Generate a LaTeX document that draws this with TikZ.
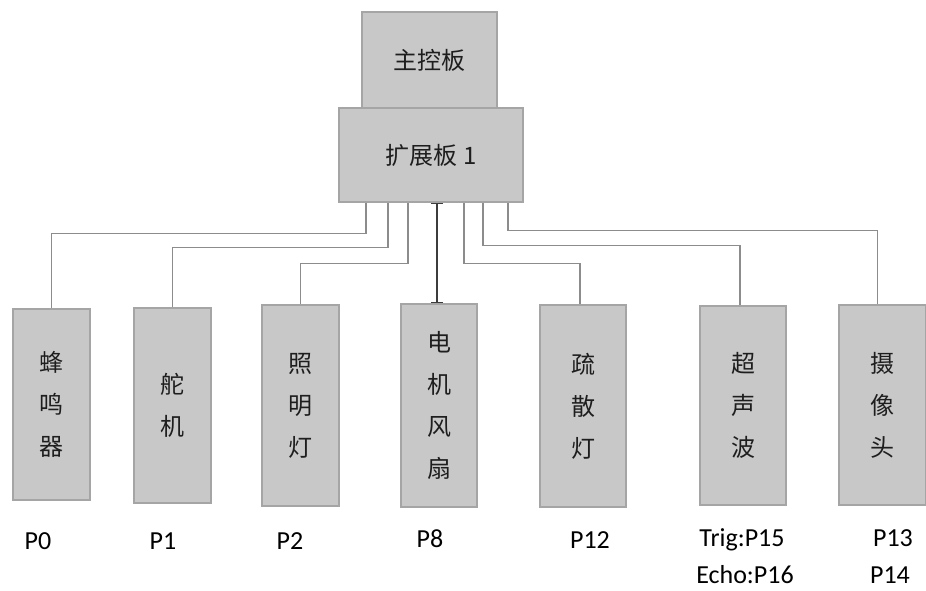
\documentclass[tikz,border=0pt]{standalone}
\usepackage{fontspec}
\setmainfont{Carlito}
\newfontfamily\cjk{Noto Sans CJK SC}
\usetikzlibrary{arrows.meta}
\definecolor{boxfill}{RGB}{200,200,200}
\definecolor{boxline}{RGB}{165,165,165}
\definecolor{wirecol}{RGB}{140,140,140}
\definecolor{darkwire}{RGB}{60,60,60}
\definecolor{txt}{RGB}{30,30,30}
\tikzset{
  board/.style={draw=boxline, fill=boxfill, line width=1.2pt, inner sep=0pt, text=txt, font=\cjk\fontsize{24}{28}\selectfont},
  dev/.style={draw=boxline, fill=boxfill, line width=1.2pt, inner sep=0pt, align=center, text=txt, font=\cjk\fontsize{24}{42}\selectfont},
  wire/.style={draw=wirecol, line width=1.2pt},
  darkline/.style={draw=darkwire, line width=1.6pt, {Bar[width=12pt]}-{Bar[width=12pt]}},
  pin/.style={anchor=base, text=black, font=\fontsize{26}{30}\selectfont, inner sep=0pt}
}
\begin{document}
\begin{tikzpicture}[x=1pt,y=-1pt]
\useasboundingbox (0,0) rectangle (926,591);
\node[board, minimum width=135pt, minimum height=96pt] (main) at (429.5,60) {主控板};
\node[board, minimum width=184pt, minimum height=94pt] (ext) at (431,155) {扩展板 1};
\node[dev, minimum width=77pt, minimum height=191pt] (b0) at (51.5,404.5) {蜂\\鸣\\器};
\node[dev, minimum width=77pt, minimum height=195pt] (b1) at (172.5,405.5) {舵\\机};
\node[dev, minimum width=77pt, minimum height=201pt] (b2) at (300.5,405.5) {照\\明\\灯};
\node[dev, minimum width=76pt, minimum height=203pt] (b3) at (439,405.5) {电\\机\\风\\扇};
\node[dev, minimum width=86pt, minimum height=202pt] (b4) at (583,406) {疏\\散\\灯};
\node[dev, minimum width=86pt, minimum height=199pt] (b5) at (743,405.5) {超\\声\\波};
\node[dev, minimum width=87pt, minimum height=200pt] (b6) at (882.5,405) {摄\\像\\头};
\draw[wire] ([xshift=-65pt]ext.south) -- ++(0,31) -| (b0.north);
\draw[wire] ([xshift=-43pt]ext.south) -- ++(0,45) -| (b1.north);
\draw[wire] ([xshift=-23pt]ext.south) -- ++(0,61) -| (b2.north);
\draw[wire] ([xshift=33pt]ext.south) -- ++(0,61) -| ([xshift=-3pt]b4.north);
\draw[wire] ([xshift=52pt]ext.south) -- ++(0,43) -| ([xshift=-3pt]b5.north);
\draw[wire] ([xshift=77pt]ext.south) -- ++(0,28) -| ([xshift=-5pt]b6.north);
\draw[darkline] ([xshift=6pt]ext.south) -- ([xshift=-2pt]b3.north);
\node[pin] (l0) at (38,549) {P0};
\node[pin] (l1) at (163,549) {P1};
\node[pin] (l2) at (290,549) {P2};
\node[pin] (l3) at (430,547) {P8};
\node[pin] (l4) at (590,548) {P12};
\node[pin] (l5a) at (742,546) {Trig:P15};
\node[pin] (l5b) at (745,583) {Echo:P16};
\node[pin] (l6a) at (893,546) {P13};
\node[pin] (l6b) at (890,583) {P14};
\end{tikzpicture}
\end{document}
